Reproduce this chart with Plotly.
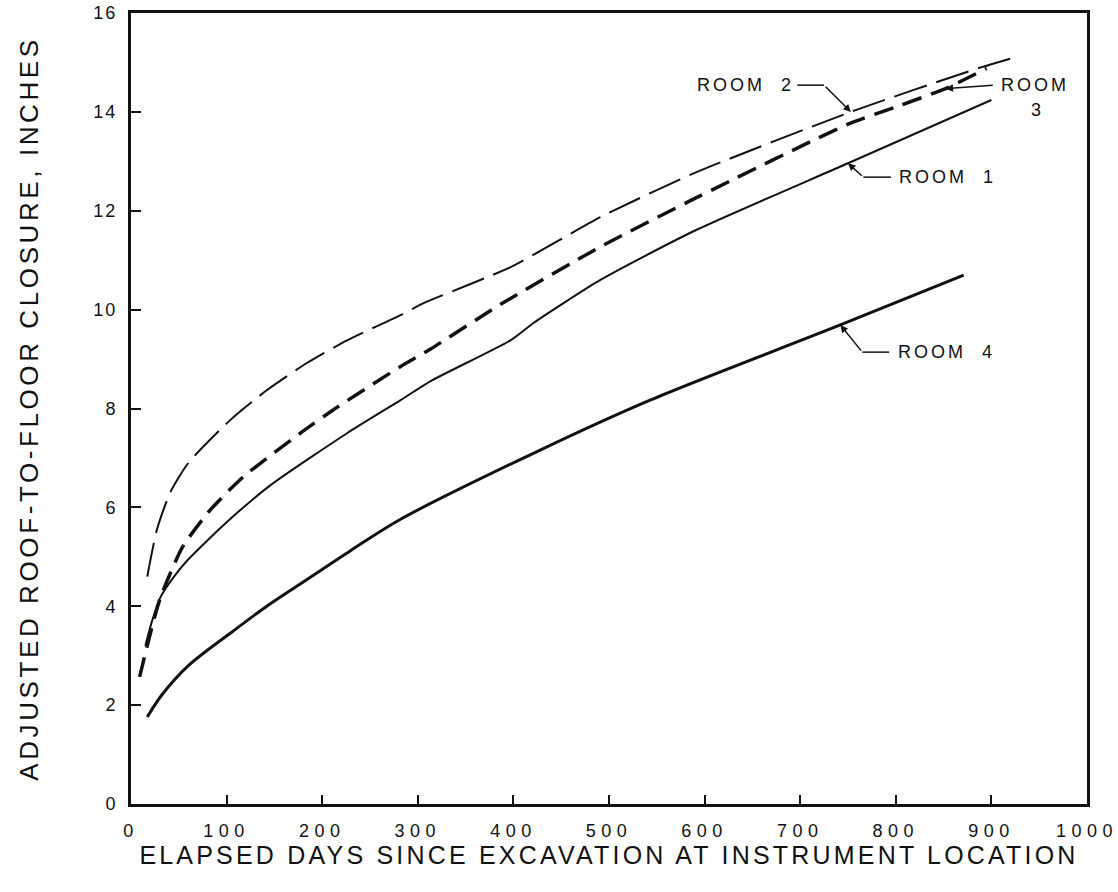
import plotly.graph_objects as go

# ---- data ----
room1_days = [15, 22, 31, 45, 60, 100, 146, 226, 282, 313, 397, 421, 491, 590, 750, 900]
room1_vals = [3.2, 3.7, 4.19, 4.6, 4.95, 5.7, 6.45, 7.5, 8.17, 8.55, 9.38, 9.73, 10.6, 11.6, 12.96, 14.24]

room2_days = [17, 27, 41, 60, 104, 142, 184, 226, 282, 306, 397, 491, 589, 753, 889, 924]
room2_vals = [4.6, 5.54, 6.3, 6.9, 7.77, 8.37, 8.92, 9.38, 9.89, 10.13, 10.86, 11.87, 12.76, 14.0, 14.9, 15.1]

room3_days = [9, 30, 54, 83, 117, 177, 216, 282, 313, 386, 491, 593, 750, 800, 852, 895]
room3_vals = [2.57, 4.13, 5.2, 5.95, 6.61, 7.5, 8.03, 8.85, 9.2, 10.1, 11.27, 12.28, 13.75, 14.1, 14.47, 14.88]

room4_days = [17, 32, 60, 107, 142, 177, 230, 282, 428, 543, 742, 871]
room4_vals = [1.76, 2.2, 2.8, 3.5, 4.0, 4.45, 5.13, 5.76, 7.16, 8.17, 9.69, 10.7]

x_ticks = [0, 100, 200, 300, 400, 500, 600, 700, 800, 900, 1000]
y_ticks = [0, 2, 4, 6, 8, 10, 12, 14, 16]

FONT = "Liberation Sans, Arial, sans-serif"
INK = "#111111"


def spaced(txt, px):
    return f'<span style="letter-spacing:{px}px">{txt}</span>'


fig = go.Figure()
fig.add_trace(go.Scatter(x=room2_days, y=room2_vals, mode="lines", name="ROOM 2",
                         line=dict(color=INK, width=2, dash="34px,10px", shape="spline", smoothing=0.6)))
fig.add_trace(go.Scatter(x=room3_days, y=room3_vals, mode="lines", name="ROOM 3",
                         line=dict(color=INK, width=3.5, dash="20px,10px", shape="spline", smoothing=0.6)))
fig.add_trace(go.Scatter(x=room1_days, y=room1_vals, mode="lines", name="ROOM 1",
                         line=dict(color=INK, width=2, shape="spline", smoothing=0.6)))
fig.add_trace(go.Scatter(x=room4_days, y=room4_vals, mode="lines", name="ROOM 4",
                         line=dict(color=INK, width=3, shape="spline", smoothing=0.9)))

lab_font = dict(family=FONT, size=18, color=INK)

# Room 2 label with elbow leader
fig.add_annotation(x=696, y=14.54, xref="x", yref="y", text=spaced("ROOM  2", 3),
                   showarrow=False, xanchor="right", yanchor="middle", font=lab_font)
fig.add_shape(type="line", x0=697, y0=14.54, x1=725, y1=14.54, line=dict(color=INK, width=1.5))
fig.add_annotation(x=room2_days[13], y=room2_vals[13], ax=725, ay=14.54, axref="x", ayref="y",
                   xref="x", yref="y", text="", showarrow=True, arrowhead=2, arrowsize=1,
                   arrowwidth=1.5, arrowcolor=INK, standoff=0)

# Room 3 label
fig.add_annotation(x=946, y=14.54, xref="x", yref="y", text=spaced("ROOM", 3),
                   showarrow=False, xanchor="center", yanchor="middle", font=lab_font)
fig.add_annotation(x=947, y=14.03, xref="x", yref="y", text="3",
                   showarrow=False, xanchor="center", yanchor="middle", font=lab_font)
fig.add_annotation(x=room3_days[14], y=room3_vals[14], ax=903, ay=14.54, axref="x", ayref="y",
                   xref="x", yref="y", text="", showarrow=True, arrowhead=2, arrowsize=1,
                   arrowwidth=1.5, arrowcolor=INK, standoff=0)

# Room 1 label
fig.add_annotation(x=801, y=12.68, xref="x", yref="y", text=spaced("ROOM  1", 3),
                   showarrow=False, xanchor="left", yanchor="middle", font=lab_font)
fig.add_shape(type="line", x0=766, y0=12.68, x1=795, y1=12.68, line=dict(color=INK, width=1.5))
fig.add_annotation(x=room1_days[14], y=room1_vals[14], ax=766, ay=12.68, axref="x", ayref="y",
                   xref="x", yref="y", text="", showarrow=True, arrowhead=2, arrowsize=1,
                   arrowwidth=1.5, arrowcolor=INK, standoff=0)

# Room 4 label
fig.add_annotation(x=800, y=9.14, xref="x", yref="y", text=spaced("ROOM  4", 3),
                   showarrow=False, xanchor="left", yanchor="middle", font=lab_font)
fig.add_shape(type="line", x0=765, y0=9.14, x1=793, y1=9.14, line=dict(color=INK, width=1.5))
fig.add_annotation(x=room4_days[10], y=room4_vals[10], ax=765, ay=9.14, axref="x", ayref="y",
                   xref="x", yref="y", text="", showarrow=True, arrowhead=2, arrowsize=1,
                   arrowwidth=1.5, arrowcolor=INK, standoff=0)

fig.update_layout(
    width=1118, height=892,
    margin=dict(l=131, r=31, t=13, b=88),
    paper_bgcolor="white", plot_bgcolor="white",
    showlegend=False,
    font=dict(family=FONT, color=INK),
)
fig.update_xaxes(
    range=[0, 1000], tickmode="array", tickvals=x_ticks,
    ticktext=[spaced(str(v), 5.5) for v in x_ticks],
    ticks="inside", ticklen=9, tickwidth=2, tickcolor=INK,
    showline=True, linewidth=3, linecolor=INK, mirror=True,
    showgrid=False, zeroline=False, automargin=False, ticklabeloverflow="allow",
    tickfont=dict(family=FONT, size=18, color=INK), ticklabelstandoff=8,
    title=dict(text=spaced("ELAPSED DAYS SINCE EXCAVATION AT INSTRUMENT LOCATION", 3.2),
               font=dict(family=FONT, size=25, color=INK), standoff=5),
)
fig.update_yaxes(
    range=[0, 16], tickmode="array", tickvals=y_ticks,
    ticktext=[spaced(str(v), 2) for v in y_ticks],
    ticks="inside", ticklen=10, tickwidth=2, tickcolor=INK,
    showline=True, linewidth=3, linecolor=INK, mirror=True,
    showgrid=False, zeroline=False, automargin=False, ticklabeloverflow="allow",
    tickfont=dict(family=FONT, size=18, color=INK), ticklabelstandoff=7,
    title=dict(text=spaced("ADJUSTED ROOF-TO-FLOOR CLOSURE, INCHES", 3.6),
               font=dict(family=FONT, size=26, color=INK), standoff=48),
)

# remove the browser's default page margin so the figure fills the window exactly
fig.write_html(
    "out.html",
    config={"displayModeBar": False},
    post_script="document.body.style.margin='0';document.body.style.overflow='hidden';",
)
